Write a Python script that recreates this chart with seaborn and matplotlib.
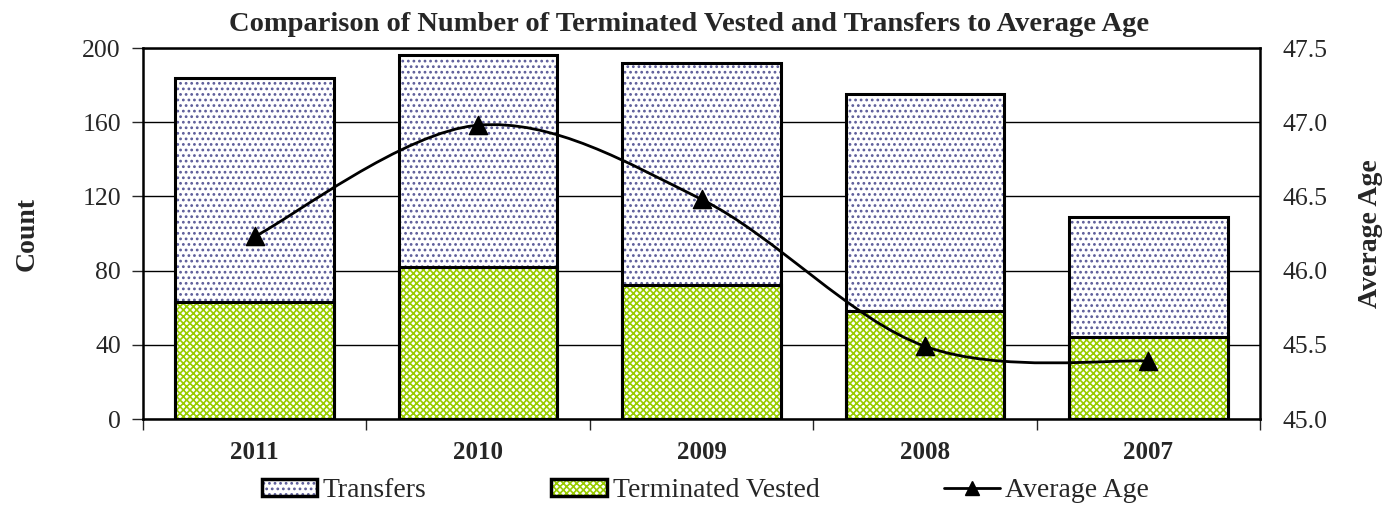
import numpy as np
import pandas as pd
import matplotlib
matplotlib.use('Agg')
import matplotlib.pyplot as plt
import seaborn as sns
from matplotlib.path import Path
from matplotlib.patches import PathPatch, Patch, Rectangle
from matplotlib.lines import Line2D
from matplotlib.legend_handler import HandlerTuple

# data
years = ['2011', '2010', '2009', '2008', '2007']
transfers_total = [184, 196, 192, 175, 109]   # top of stacked bar
terminated_vested = [63, 82, 72, 58, 44]
average_age = [46.23, 46.98, 46.48, 45.49, 45.39]

sns.set_style('white')
plt.rcParams['font.family'] = ['Liberation Serif', 'DejaVu Serif']
plt.rcParams['hatch.linewidth'] = 1.2

df = pd.DataFrame({'Year': years, 'Total': transfers_total,
                   'Terminated Vested': terminated_vested})

fig = plt.figure(figsize=(13.97, 5.11), dpi=100)
ax = fig.add_axes([0.1024, 0.18, 0.7996, 0.726])

dot_col = '#5c5c99'
green = '#99cc00'
dot_hatch = '...'
green_hatch = 'xxxxx'

# transfers (stack top) then terminated vested on top of it
sns.barplot(data=df, x='Year', y='Total', order=years, width=0.71,
            color='white', ax=ax, zorder=2)
n = len(years)
for p in ax.patches[:n]:
    p.set_hatch(dot_hatch)
    p.set_edgecolor(dot_col)
    p.set_linewidth(0)
sns.barplot(data=df, x='Year', y='Terminated Vested', order=years, width=0.71,
            color='white', ax=ax, zorder=3)
for p in ax.patches[n:2 * n]:
    p.set_hatch(green_hatch)
    p.set_edgecolor(green)
    p.set_linewidth(0)
# black outlines
for p in list(ax.patches[:2 * n]):
    ax.add_patch(Rectangle(p.get_xy(), p.get_width(), p.get_height(), fill=False,
                           edgecolor='black', linewidth=2.2, zorder=4))

ax.set_xlim(-0.5, n - 0.5)
ax.set_ylim(0, 200)
ax.set_yticks([0, 40, 80, 120, 160, 200])
ax.yaxis.grid(True, color='black', linewidth=1)
ax.set_axisbelow(True)
ax.set_xlabel('')
ax.set_ylabel('Count', fontsize=20, fontweight='bold', labelpad=31)
ax.tick_params(axis='y', labelsize=18.5, direction='out', length=8, width=1, left=True, pad=8)
ax.tick_params(axis='x', which='major', length=0, labelsize=18, pad=16)
for t in ax.get_xticklabels():
    t.set_fontweight('bold')
ax.set_xticks(np.arange(n + 1) - 0.5, minor=True)
ax.tick_params(axis='x', which='minor', direction='out', length=8, width=1, bottom=True)
for s in ax.spines.values():
    s.set_linewidth(1.8)
    s.set_color('black')

# average age on the right axis with a smoothed line
ax2 = ax.twinx()
ax2.set_ylim(45.0, 47.5)
ax2.set_yticks([45.0, 45.5, 46.0, 46.5, 47.0, 47.5])
ax2.set_yticklabels([f'{v:.1f}' for v in ax2.get_yticks()])
ax2.tick_params(axis='y', labelsize=18.5, length=0, pad=16)
ax2.set_ylabel('Average Age', fontsize=20, fontweight='bold', labelpad=22)
for s in ax2.spines.values():
    s.set_visible(False)

xs = np.arange(n, dtype=float)
ys = np.array(average_age)
verts = [(xs[0], ys[0])]
codes = [Path.MOVETO]
for i in range(n - 1):
    p0 = np.array([xs[max(i - 1, 0)], ys[max(i - 1, 0)]])
    p1 = np.array([xs[i], ys[i]])
    p2 = np.array([xs[i + 1], ys[i + 1]])
    p3 = np.array([xs[min(i + 2, n - 1)], ys[min(i + 2, n - 1)]])
    c1 = p1 + (p2 - p0) / 6
    c2 = p2 - (p3 - p1) / 6
    verts += [tuple(c1), tuple(c2), tuple(p2)]
    codes += [Path.CURVE4] * 3
ax2.add_patch(PathPatch(Path(verts, codes), fill=False, edgecolor='black',
                        linewidth=2, zorder=5))
sns.scatterplot(x=xs, y=ys, marker='^', s=170, color='black', edgecolor='black',
                ax=ax2, zorder=6, legend=False)

fig.suptitle('Comparison of Number of Terminated Vested and Transfers to Average Age',
             fontsize=20.5, fontweight='bold', x=0.493, y=0.977)

handles = [
    (Patch(facecolor='white', edgecolor=dot_col, linewidth=0, hatch=dot_hatch),
     Patch(fill=False, edgecolor='black', linewidth=2.5)),
    (Patch(facecolor='white', edgecolor=green, linewidth=0, hatch=green_hatch),
     Patch(fill=False, edgecolor='black', linewidth=2.5)),
    Line2D([0], [0], color='black', lw=2, marker='^', markersize=10),
]
leg = fig.legend(handles, ['Transfers', 'Terminated Vested', 'Average Age'],
                 handler_map={tuple: HandlerTuple(ndivide=1, pad=0)},
                 loc='center', bbox_to_anchor=(0.505, 0.04), ncol=3, frameon=False,
                 fontsize=20, handlelength=2.0, handleheight=0.55, handletextpad=0.2,
                 columnspacing=4.5)

fig.savefig('out.png', dpi=100)
